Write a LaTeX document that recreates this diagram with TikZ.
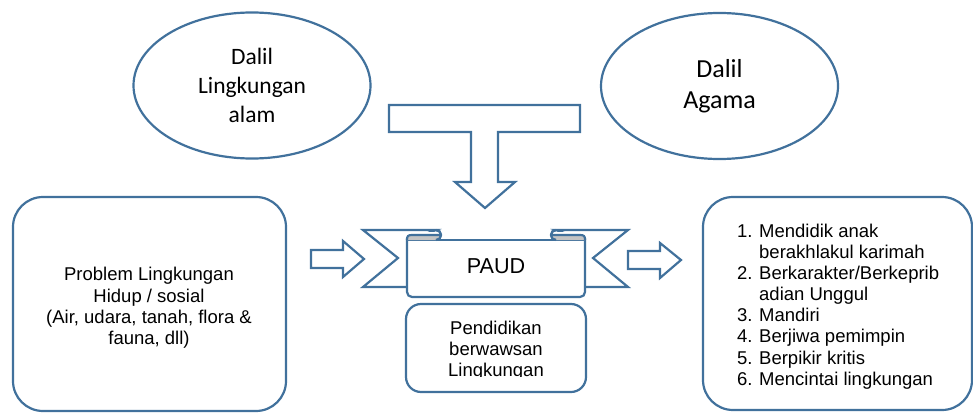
\documentclass[tikz,border=0pt]{standalone}
\usepackage{fontspec}
\setmainfont{Liberation Sans}
\newfontfamily\calibrifont{Carlito}
\usetikzlibrary{shapes.geometric}
\definecolor{edgeblue}{RGB}{65,113,156}
\definecolor{rollgray}{RGB}{196,196,196}
\begin{document}
\begin{tikzpicture}[x=1pt,y=-1pt,
  outl/.style={draw=edgeblue, line width=2.2pt},
  shp/.style={outl, fill=white},
  ellip/.style={shp, ellipse, inner sep=0pt, align=center},
  rbox/.style={shp, rectangle, inner sep=0pt},
  arialtext/.style={inner sep=0pt, align=center, font=\fontsize{18.5}{21.4}\selectfont},
]
\useasboundingbox (0,0) rectangle (973,412);

% ellipses
\node[ellip, minimum width=237pt, minimum height=146pt,
      font=\calibrifont\fontsize{23.5}{28.6}\selectfont] (alam) at (252,85.5)
      {Dalil\\Lingkungan\\alam};
\node[ellip, minimum width=237pt, minimum height=146pt,
      font=\calibrifont\fontsize{26}{31.5}\selectfont] (agama) at (719.5,86)
      {Dalil\\Agama};

% T-shaped down arrow
\draw[shp] (389,105) -- (580,105) -- (580,132) -- (498,132) -- (498,182)
  -- (515,182) -- (485,208) -- (455,182) -- (471,182) -- (471,132)
  -- (389,132) -- cycle;

% left and right boxes
\node[rbox, rounded corners=30pt, minimum width=273pt, minimum height=214pt] (problem) at (149.5,304) {};
\node[arialtext] (problemtxt) at (149,308)
  {Problem Lingkungan\\Hidup / sosial\\(Air, udara, tanah, flora \&\\fauna, dll)};

\node[rbox, rounded corners=30pt, minimum width=269pt, minimum height=213pt] (tujuan) at (837.5,303.5) {};
\node[arialtext, align=left, anchor=west, font=\fontsize{18.5}{21.1}\selectfont] (tujuantxt) at (737,306.5)
  {\makebox[22pt][l]{1.}Mendidik anak\\
   \hspace*{22pt}berakhlakul karimah\\
   \makebox[22pt][l]{2.}Berkarakter/Berkeprib\\
   \hspace*{22pt}adian Unggul\\
   \makebox[22pt][l]{3.}Mandiri\\
   \makebox[22pt][l]{4.}Berjiwa pemimpin\\
   \makebox[22pt][l]{5.}Berpikir kritis\\
   \makebox[22pt][l]{6.}Mencintai lingkungan};

% block arrows
\draw[shp] (311,250) -- (343,250) -- (343,241) -- (364,259) -- (343,277)
  -- (343,268) -- (311,268) -- cycle;
\draw[shp] (628,251) -- (660,251) -- (660,243) -- (681,260) -- (660,278)
  -- (660,269) -- (628,269) -- cycle;

% ribbon tails
\draw[shp] (436,230) -- (363,230) -- (398,258) -- (363,287) -- (410,287) -- (410,240) -- cycle;
\draw[outl] (436,230) arc[start angle=90, end angle=-90, radius=5pt];
\draw[shp] (556,230) -- (628,230) -- (593,258) -- (628,287) -- (582,287) -- (582,240) -- cycle;
\draw[outl] (556,230) arc[start angle=90, end angle=270, radius=5pt];
\fill[white] (436,231.5) -- (436,238.5) -- (410,238.5) -- (410,231.5) -- cycle;
\fill[white] (556,231.5) -- (556,238.5) -- (582,238.5) -- (582,231.5) -- cycle;

% ribbon body
\fill[white] (407,240) rectangle (585,297);
\draw[outl, rounded corners=5pt] (407,238) -- (407,297) -- (585,297) -- (585,238);
\draw[outl] (407,240) -- (585,240);
\node[inner sep=0pt, font=\fontsize{21.6}{26}\selectfont] (paud) at (496,266) {PAUD};

% rolled ends
\fill[rollgray] (407,240) .. controls (407,236) and (408,235) .. (412,235)
  -- (441,235) arc[start angle=0, end angle=-90, radius=5pt] -- cycle;
\draw[outl] (407,240) .. controls (407,236) and (408,235) .. (412,235) -- (441,235);
\fill[rollgray] (585,240) .. controls (585,236) and (584,235) .. (580,235)
  -- (551,235) arc[start angle=180, end angle=270, radius=5pt] -- cycle;
\draw[outl] (585,240) .. controls (585,236) and (584,235) .. (580,235) -- (551,235);
\draw[outl] (436,230) arc[start angle=90, end angle=-90, radius=5pt];
\draw[outl] (556,230) arc[start angle=90, end angle=270, radius=5pt];

% pendidikan box
\node[rbox, rounded corners=15pt, minimum width=180pt, minimum height=88pt] (pendidikan) at (496,348) {};
\begin{scope}
  \clip (400,300) rectangle (590,376.5);
  \node[arialtext, font=\fontsize{18.5}{20.8}\selectfont] (pendidikantxt) at (496,351)
    {Pendidikan\\berwawsan\\Lingkungan};
\end{scope}
\end{tikzpicture}
\end{document}
